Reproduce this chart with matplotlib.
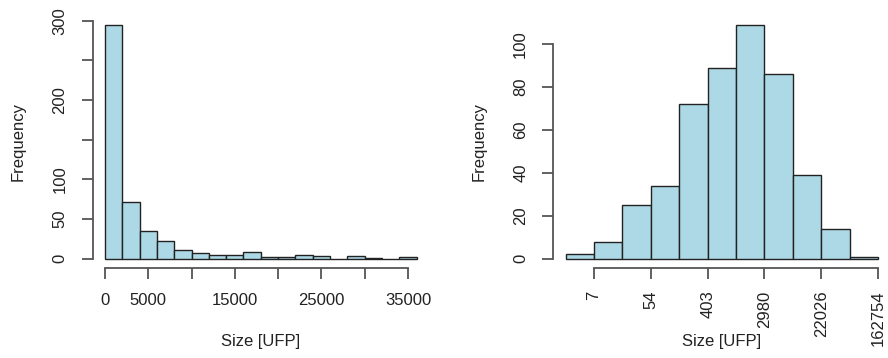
import numpy as np
import matplotlib
matplotlib.use("Agg")
import matplotlib.pyplot as plt

plt.rcParams['font.family'] = ['Liberation Sans', 'DejaVu Sans']
plt.rcParams['font.size'] = 12

# raw scale histogram: bins of 2000 UFP
lin_edges = np.arange(0, 36001, 2000)
lin_counts = [295, 72, 35, 22, 11, 7, 5, 5, 8, 2, 2, 5, 3, 0, 3, 1, 0, 2]
lin_ticks = [0, 5000, 10000, 15000, 20000, 25000, 30000, 35000]
lin_ticklabels = ['0', '5000', '', '15000', '', '25000', '', '35000']
lin_yticks = [0, 50, 100, 150, 200, 250, 300]
lin_yticklabels = ['0', '50', '100', '', '200', '', '300']

# log scale histogram: bins of 1 in ln(size)
log_edges = np.arange(1, 13, 1)
log_counts = [2, 8, 25, 34, 72, 89, 109, 86, 39, 14, 1]
log_ticks = [2, 4, 6, 8, 10, 12]
log_ticklabels = ['7', '54', '403', '2980', '22026', '162754']
log_yticks = [0, 20, 40, 60, 80, 100]

fill = '#ADD8E6'
edge = '#222222'
axcol = '#555555'
txtcol = '#222222'

fig = plt.figure(figsize=(8.88, 3.58), dpi=100)
ax1 = fig.add_axes([0.1042, 0.2511, 0.379, 0.7059])
ax2 = fig.add_axes([0.6229, 0.2511, 0.380, 0.7059])


def r_style(ax, edges, counts, xt, yt):
    ax.bar(edges[:-1], counts, width=np.diff(edges), align='edge',
           color=fill, edgecolor=edge, linewidth=1.0)
    rx = edges[-1] - edges[0]
    ax.set_xlim(edges[0] - 0.04 * rx, edges[-1] + 0.04 * rx)
    my = max(counts)
    ax.set_ylim(-0.04 * my, 1.04 * my)
    for s in ['top', 'right']:
        ax.spines[s].set_visible(False)
    ax.spines['left'].set_bounds(yt[0], yt[-1])
    ax.spines['bottom'].set_bounds(xt[0], xt[-1])
    for s in ['left', 'bottom']:
        ax.spines[s].set_color(axcol)
        ax.spines[s].set_linewidth(1.3)
    ax.tick_params(length=8, width=1.3, color=axcol, labelcolor=txtcol)
    ax.set_ylabel('Frequency', color=txtcol, va='center', ha='center')
    ax.set_xlabel('Size [UFP]', color=txtcol, va='center', ha='center')
    ax.yaxis.set_label_coords(-0.22, 0.5)
    ax.xaxis.set_label_coords(0.5, -0.292)


r_style(ax1, lin_edges, lin_counts, lin_ticks, lin_yticks)
ax1.set_xticks(lin_ticks, lin_ticklabels)
ax1.set_yticks(lin_yticks, lin_yticklabels, rotation=90, va='center')
ax1.tick_params(axis='x', pad=10)
ax1.tick_params(axis='y', pad=10)

r_style(ax2, log_edges, log_counts, log_ticks, log_yticks)
ax2.set_xticks(log_ticks, log_ticklabels, rotation=90)
ax2.set_yticks(log_yticks, [str(v) for v in log_yticks], rotation=90, va='center')
ax2.tick_params(axis='x', pad=8)
ax2.tick_params(axis='y', pad=10)

fig.savefig('out.png', dpi=100)
